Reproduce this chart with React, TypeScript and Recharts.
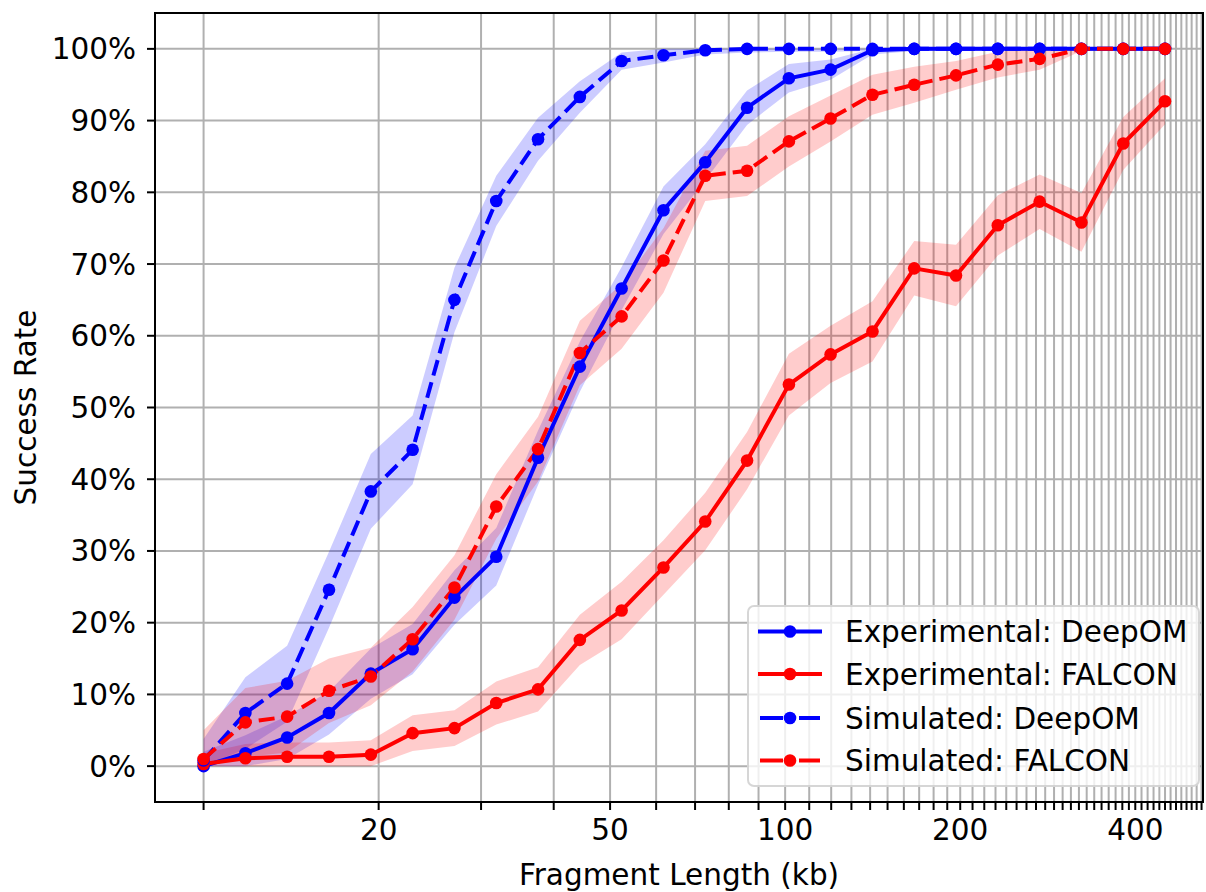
import React from 'react';
import {
  ComposedChart,
  Line,
  Area,
  XAxis,
  YAxis,
  CartesianGrid,
  ReferenceArea,
} from 'recharts';

// Fragment length (kb), log-spaced bins
const fragmentLengths = [
  10.0, 11.8, 13.92, 16.43, 19.39, 22.88, 27.0, 31.86, 37.59, 44.36, 52.34, 61.77,
  72.88, 86.0, 101.5, 119.7, 141.3, 166.7, 196.7, 232.1, 273.9, 323.2, 381.4, 450.0,
];

// Success rate (%)
const expDeepOM = [
  0.0, 1.8, 4.0, 7.4, 12.9, 16.3, 23.5, 29.2, 43.0, 55.7, 66.6, 77.5,
  84.2, 91.8, 95.9, 97.1, 99.8, 100, 100, 100, 100, 100, 100, 100,
];
const expFALCON = [
  0.3, 1.1, 1.3, 1.3, 1.6, 4.6, 5.3, 8.8, 10.7, 17.6, 21.7, 27.7,
  34.1, 42.6, 53.2, 57.4, 60.6, 69.4, 68.4, 75.4, 78.7, 75.8, 86.8, 92.7,
];
const simDeepOM = [
  0.8, 7.4, 11.5, 24.6, 38.3, 44.1, 65.0, 78.8, 87.4, 93.3, 98.3, 99.1,
  99.8, 100, 100, 100, 100, 100, 100, 100, 100, 100, 100, 100,
];
const simFALCON = [
  1.0, 6.1, 6.9, 10.5, 12.5, 17.7, 24.9, 36.2, 44.2, 57.6, 62.7, 70.5,
  82.3, 83.0, 87.1, 90.3, 93.6, 95.0, 96.3, 97.8, 98.6, 100, 100, 100,
];

// Half-width of the shaded confidence band (%)
const expDeepOMErr = [
  2, 2.5, 3, 3, 3.5, 3.5, 3.8, 4, 3.8, 3.5, 3, 3.3,
  2.5, 2.4, 2, 1.4, 0.6, 0.3, 0.3, 0.3, 0.3, 0.3, 0.3, 0.3,
];
const expFALCONErr = [
  1.5, 2, 2, 2, 2, 2.5, 2.5, 3, 3.1, 3.5, 4, 3.8,
  4, 4, 4.3, 4, 4.2, 3.8, 4.3, 4.2, 3.8, 4.1, 3.7, 3.2,
];
const simDeepOMErr = [
  3, 5, 5.3, 5.3, 5.2, 4.8, 4.5, 3.5, 3, 2.2, 1.2, 1,
  0.6, 0.5, 0.4, 0.4, 0.3, 0.3, 0.3, 0.3, 0.3, 0.3, 0.3, 0.3,
];
const simFALCONErr = [
  4, 4.8, 5, 4.5, 4, 4.5, 4.5, 4.5, 4.5, 4.5, 4.5, 4.5,
  3.5, 3.5, 3.5, 3.2, 2.8, 2.5, 2, 1.8, 1.5, 0.3, 0.3, 0.3,
];

const xGridTicks = [
  10, 20, 30, 40, 50, 60, 70, 80, 90, 100, 110, 120, 130, 140, 150, 160, 170, 180, 190, 200,
  210, 220, 230, 240, 250, 260, 270, 280, 290, 300, 310, 320, 330, 340, 350, 360, 370, 380,
  390, 400, 410, 420, 430, 440, 450, 460, 470, 480, 490, 500, 510, 520,
];
const xLabelTicks = [20, 50, 100, 200, 400];
const yTicks = [0, 10, 20, 30, 40, 50, 60, 70, 80, 90, 100];

const seriesNames = [
  'Experimental: DeepOM',
  'Experimental: FALCON',
  'Simulated: DeepOM',
  'Simulated: FALCON',
];

const BLUE = '#0000ff';
const RED = '#ff0000';
const FONT = 'DejaVu Sans';
const FS = 29.5;
const DASH = '16 7';
const DOT_R = 6.3;
const X_DOMAIN: [number, number] = [8.25, 523];
const Y_DOMAIN: [number, number] = [-5, 105];

const clamp = (v: number) => Math.max(0, Math.min(100, v));
const band = (v: number, e: number) => [clamp(v - e), clamp(v + e)];

const data = fragmentLengths.map((x, i) => ({
  x,
  expDeep: expDeepOM[i],
  expFalcon: expFALCON[i],
  simDeep: simDeepOM[i],
  simFalcon: simFALCON[i],
  expDeepBand: band(expDeepOM[i], expDeepOMErr[i]),
  expFalconBand: band(expFALCON[i], expFALCONErr[i]),
  simDeepBand: band(simDeepOM[i], simDeepOMErr[i]),
  simFalconBand: band(simFALCON[i], simFALCONErr[i]),
}));

const XTick = (props: any) => {
  const { x, y, payload } = props;
  if (!xLabelTicks.includes(payload.value)) return <g />;
  return (
    <text
      x={x}
      y={y}
      dy="0.71em"
      textAnchor="middle"
      fontSize={FS}
      fill="#000"
      fontFamily={FONT}
    >
      {payload.value}
    </text>
  );
};

const legendRows = [
  { name: seriesNames[0], color: BLUE, dashed: false, y: 24.5 },
  { name: seriesNames[1], color: RED, dashed: false, y: 67 },
  { name: seriesNames[2], color: BLUE, dashed: true, y: 111 },
  { name: seriesNames[3], color: RED, dashed: true, y: 153.5 },
];

const LegendBox = () => (
  <div
    style={{
      position: 'absolute',
      left: 747,
      top: 605,
      width: 453,
      height: 182,
      boxSizing: 'border-box',
      border: '2px solid rgba(204,204,204,0.8)',
      borderRadius: 7,
      background: 'rgba(255,255,255,0.8)',
    }}
  >
    <svg width={449} height={178} style={{ position: 'absolute', left: 0, top: 0 }}>
      {legendRows.map((r) => (
        <g key={r.name}>
          {r.dashed ? (
            <>
              <line x1={11} x2={34} y1={r.y} y2={r.y} stroke={r.color} strokeWidth={4} />
              <line x1={38} x2={46} y1={r.y} y2={r.y} stroke={r.color} strokeWidth={4} />
              <line x1={50} x2={71} y1={r.y} y2={r.y} stroke={r.color} strokeWidth={4} />
            </>
          ) : (
            <line x1={9} x2={73} y1={r.y} y2={r.y} stroke={r.color} strokeWidth={4} />
          )}
          <circle cx={41} cy={r.y} r={DOT_R} fill={r.color} />
          <text
            x={96}
            y={r.y}
            dy="0.36em"
            fontSize={FS}
            fontFamily={FONT}
            fill="#000"
          >
            {r.name}
          </text>
        </g>
      ))}
    </svg>
  </div>
);

export default function App() {
  return (
    <div
      style={{
        position: 'absolute',
        left: 0,
        top: 0,
        width: 1206,
        height: 892,
        background: '#fff',
        fontFamily: FONT,
      }}
    >
      <ComposedChart
        width={1206}
        height={892}
        data={data}
        margin={{ top: 13, right: 3, bottom: 0, left: 0 }}
      >
        <CartesianGrid stroke="#b0b0b0" strokeWidth={2} />
        <XAxis
          dataKey="x"
          type="number"
          scale="log"
          domain={X_DOMAIN}
          allowDataOverflow
          ticks={xGridTicks}
          interval={0}
          tick={<XTick />}
          tickSize={8}
          tickMargin={9}
          tickLine={{ stroke: '#000', strokeWidth: 2 }}
          axisLine={{ stroke: '#000', strokeWidth: 2 }}
          height={90}
          label={{
            value: 'Fragment Length (kb)',
            position: 'insideBottom',
            offset: 7,
            fill: '#000',
            fontSize: FS,
            fontFamily: FONT,
          }}
        />
        <YAxis
          type="number"
          domain={Y_DOMAIN}
          allowDataOverflow
          ticks={yTicks}
          interval={0}
          tickFormatter={(v: number) => `${v}%`}
          width={155}
          tickSize={8}
          tickMargin={11}
          tick={{ fill: '#000', fontSize: FS, fontFamily: FONT }}
          tickLine={{ stroke: '#000', strokeWidth: 2 }}
          axisLine={{ stroke: '#000', strokeWidth: 2 }}
          label={{
            value: 'Success Rate',
            angle: -90,
            position: 'insideLeft',
            offset: 26,
            textAnchor: 'middle',
            fill: '#000',
            fontSize: FS,
            fontFamily: FONT,
          }}
        />
        <Area
          type="linear"
          dataKey="expDeepBand"
          stroke="none"
          fill={BLUE}
          fillOpacity={0.2}
          isAnimationActive={false}
          activeDot={false}
        />
        <Area
          type="linear"
          dataKey="expFalconBand"
          stroke="none"
          fill={RED}
          fillOpacity={0.2}
          isAnimationActive={false}
          activeDot={false}
        />
        <Area
          type="linear"
          dataKey="simDeepBand"
          stroke="none"
          fill={BLUE}
          fillOpacity={0.2}
          isAnimationActive={false}
          activeDot={false}
        />
        <Area
          type="linear"
          dataKey="simFalconBand"
          stroke="none"
          fill={RED}
          fillOpacity={0.2}
          isAnimationActive={false}
          activeDot={false}
        />
        <Line
          type="linear"
          dataKey="expDeep"
          name={seriesNames[0]}
          stroke={BLUE}
          strokeWidth={4}
          dot={{ r: DOT_R, fill: BLUE, stroke: 'none' }}
          activeDot={false}
          isAnimationActive={false}
        />
        <Line
          type="linear"
          dataKey="expFalcon"
          name={seriesNames[1]}
          stroke={RED}
          strokeWidth={4}
          dot={{ r: DOT_R, fill: RED, stroke: 'none' }}
          activeDot={false}
          isAnimationActive={false}
        />
        <Line
          type="linear"
          dataKey="simDeep"
          name={seriesNames[2]}
          stroke={BLUE}
          strokeWidth={4}
          strokeDasharray={DASH}
          dot={{ r: DOT_R, fill: BLUE, stroke: 'none', strokeDasharray: '' }}
          activeDot={false}
          isAnimationActive={false}
        />
        <Line
          type="linear"
          dataKey="simFalcon"
          name={seriesNames[3]}
          stroke={RED}
          strokeWidth={4}
          strokeDasharray={DASH}
          dot={{ r: DOT_R, fill: RED, stroke: 'none', strokeDasharray: '' }}
          activeDot={false}
          isAnimationActive={false}
        />
        <ReferenceArea
          x1={X_DOMAIN[0]}
          x2={X_DOMAIN[1]}
          y1={Y_DOMAIN[0]}
          y2={Y_DOMAIN[1]}
          fill="none"
          fillOpacity={0}
          stroke="#000"
          strokeWidth={2}
          ifOverflow="visible"
        />
      </ComposedChart>
      <LegendBox />
    </div>
  );
}
